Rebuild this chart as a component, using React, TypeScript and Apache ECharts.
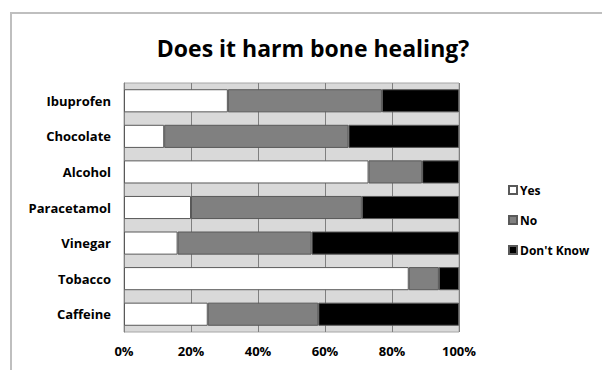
import React, { useEffect, useRef } from "react";
import * as echarts from "echarts";

const categories = ["Ibuprofen", "Chocolate", "Alcohol", "Paracetamol", "Vinegar", "Tobacco", "Caffeine"];
const yesValues = [31, 12, 73, 20, 16, 85, 25];
const noValues = [46, 55, 16, 51, 40, 9, 33];
const dontKnowValues = [23, 33, 11, 29, 44, 6, 42];
const seriesNames = ["Yes", "No", "Don't Know"];
const xTicks = [0, 20, 40, 60, 80, 100];

const FONT = "Open Sans";

export default function App() {
  const ref = useRef<HTMLDivElement>(null);
  useEffect(() => {
    if (!ref.current) return;
    const chart = echarts.init(ref.current, undefined, { renderer: "svg" });
    const colors = ["#ffffff", "#808080", "#000000"];
    const data = [yesValues, noValues, dontKnowValues];
    chart.setOption({
      animation: false,
      backgroundColor: "#ffffff",
      title: {
        text: "Does it harm bone healing?",
        left: 308,
        textAlign: "center",
        top: 31,
        textStyle: { fontFamily: FONT, fontWeight: "bold", fontSize: 23, color: "#000" },
      },
      graphic: [
        {
          type: "rect",
          shape: { x: 11, y: 13, width: 700, height: 400 },
          style: { fill: "none", stroke: "#bfbfbf", lineWidth: 2 },
          silent: true,
        },
      ],
      legend: {
        orient: "vertical",
        left: 503,
        top: 179,
        itemWidth: 8,
        itemHeight: 8,
        itemGap: 18,
        icon: "rect",
        data: seriesNames,
        textStyle: { fontFamily: FONT, fontWeight: "bold", fontSize: 12, color: "#000", padding: [0, 0, 0, -2] },
      },
      grid: {
        left: 124,
        right: 143,
        top: 83,
        bottom: 38,
        show: true,
        backgroundColor: "#d9d9d9",
        borderColor: "#a6a6a6",
        borderWidth: 1,
      },
      xAxis: {
        type: "value",
        min: 0,
        max: 100,
        interval: 20,
        axisLine: { show: false },
        axisTick: { show: false },
        splitLine: { show: true, lineStyle: { color: "#7f7f7f", width: 1 } },
        axisLabel: {
          formatter: (v: number) => (xTicks.includes(v) ? v + "%" : ""),
          fontFamily: FONT,
          fontWeight: "bold",
          fontSize: 13,
          color: "#000",
          margin: 12,
        },
      },
      yAxis: {
        type: "category",
        data: categories,
        inverse: true,
        axisLine: { show: true, lineStyle: { color: "#808080" } },
        axisTick: { show: false },
        axisLabel: {
          fontFamily: FONT,
          fontWeight: "bold",
          fontSize: 13,
          color: "#000",
          margin: 13,
        },
      },
      series: seriesNames.map((name, i) => ({
        name,
        type: "bar",
        stack: "total",
        barWidth: "65%",
        data: data[i],
        itemStyle: { color: colors[i], borderColor: "#595959", borderWidth: 1 },
      })),
    });
    return () => chart.dispose();
  }, []);
  return (
    <div
      ref={ref}
      style={{ position: "absolute", left: 0, top: 0, width: 602, height: 370 }}
    />
  );
}
